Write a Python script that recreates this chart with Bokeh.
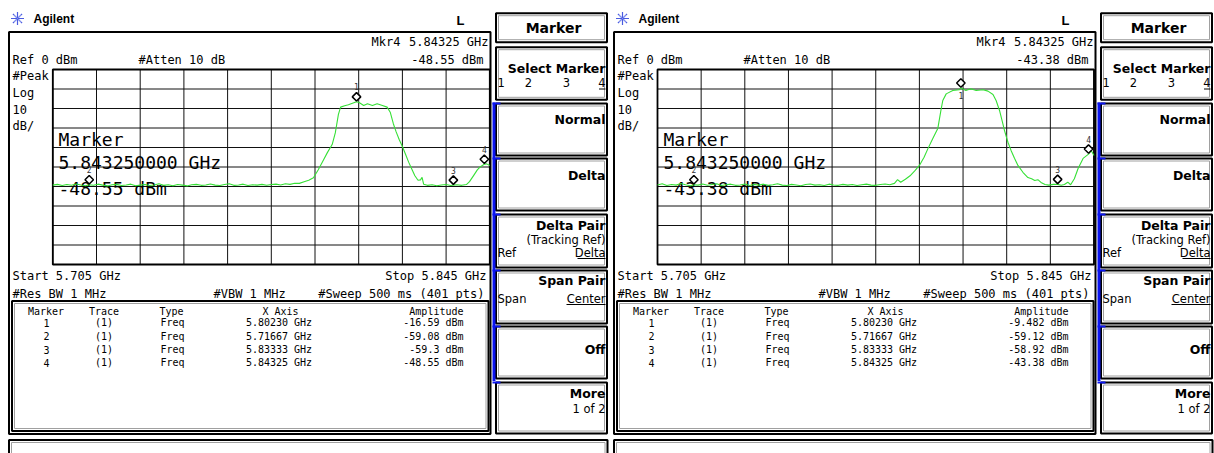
import numpy as np
from bokeh.plotting import figure
from bokeh.models import Range1d
from bokeh.core.properties import value
from bokeh.embed import file_html
from bokeh.resources import INLINE

# ---------------------------------------------------------------- data
F_START, F_STOP = 5705.0, 5845.0          # MHz (Start 5.705 GHz / Stop 5.845 GHz)
REF_LEVEL, DB_PER_DIV = 0.0, 10.0          # Ref 0 dBm, 10 dB/div
N_XDIV, N_YDIV = 10, 10

# left screen trace (MHz, dBm)
L_FREQ = [5705, 5706.5, 5708, 5709.5, 5711, 5712.5, 5714, 5715.5, 5716.67, 5718,
          5719.5, 5721, 5722.5, 5724, 5725.5, 5727, 5728.5, 5730, 5731.5, 5733,
          5734.5, 5736, 5737.5, 5739, 5740.5, 5742, 5743.5, 5745, 5746.5, 5748,
          5749.5, 5751, 5752.5, 5754, 5755.5, 5757, 5758.5, 5760, 5761.5, 5763,
          5764.5, 5766, 5767.5, 5769, 5770.5, 5772, 5773.5, 5775, 5776.5, 5778,
          5779.5, 5781, 5782.5, 5784, 5785.5, 5787, 5788.5, 5790, 5791.5, 5793,
          5794.5, 5795.5, 5796.5, 5797.2, 5798.5, 5799.7, 5801, 5802.3, 5803, 5804.6,
          5805.8, 5807.4, 5808.9, 5810.6, 5812.1, 5813.1, 5814.1, 5815, 5816, 5817,
          5818, 5819, 5820, 5821, 5822, 5822.8, 5823.3, 5823.8, 5825, 5826.5,
          5828, 5829.5, 5831, 5832.5, 5833.33, 5834.5, 5836, 5837.5, 5838.5, 5839.8,
          5841, 5842, 5843.25, 5844, 5845]
L_DBM = [-59.3, -58.9, -59.5, -59.0, -59.4, -58.7, -59.2, -59.6, -59.08, -59.4,
         -58.8, -59.3, -59.7, -59.1, -58.9, -59.5, -59.2, -58.8, -59.6, -59.3,
         -59.0, -59.5, -59.2, -58.6, -59.4, -59.1, -59.6, -59.0, -59.3, -59.7,
         -59.1, -58.9, -59.4, -59.2, -58.7, -59.3, -59.5, -59.0, -58.6, -59.4,
         -59.2, -58.8, -59.5, -59.1, -59.3, -58.9, -59.4, -59.0, -58.8, -59.2,
         -58.6, -58.9, -58.3, -58.4, -57.6, -56.8, -55.5, -51.5, -47.0, -42.5,
         -38.5, -32.5, -23.0, -19.3, -18.6, -18.1, -17.3, -16.59, -16.8, -18.5,
         -17.6, -18.5, -17.6, -18.5, -19.3, -21.9, -27.8, -32.0, -36.0, -39.5,
         -43.5, -47.5, -51.0, -54.5, -56.8, -56.6, -55.3, -58.8, -59.4, -59.1,
         -59.6, -59.2, -59.0, -59.5, -59.3, -59.1, -59.4, -59.0, -57.5, -54.4,
         -51.5, -49.8, -48.55, -48.4, -49.2]

# right screen trace (MHz, dBm)
R_FREQ = [5705, 5706.5, 5708, 5709.5, 5711, 5712.5, 5714, 5715.5, 5716.67, 5718,
          5719.5, 5721, 5722.5, 5724, 5725.5, 5727, 5728.5, 5730, 5731.5, 5733,
          5734.5, 5736, 5737.5, 5739, 5740.5, 5742, 5743.5, 5745, 5746.5, 5748,
          5749.5, 5751, 5752.5, 5754, 5755.5, 5757, 5758.5, 5760, 5761.5, 5763,
          5764.5, 5766, 5767.5, 5769, 5770.5, 5772, 5773.5, 5775, 5776.5, 5778,
          5779.5, 5781, 5782, 5783, 5784.5, 5786, 5787.5, 5789, 5790.5, 5791.7,
          5793.3, 5794.9, 5795.9, 5796.5, 5797.6, 5799.7, 5801.8, 5802.3, 5803.9, 5805.5,
          5807.2, 5809.4, 5811, 5812.6, 5813.6, 5814.7, 5815.8, 5816.3, 5817.4, 5818.4,
          5819.5, 5820.6, 5822.2, 5823.8, 5825, 5826, 5827, 5828, 5829.3, 5830.5,
          5832, 5833.33, 5834.5, 5835.5, 5836.6, 5837.5, 5838.7, 5839.9, 5841.5, 5843.25,
          5844.1, 5845]
R_DBM = [-59.2, -58.6, -59.5, -59.0, -59.3, -58.5, -59.1, -59.6, -59.12, -59.3,
         -58.7, -59.4, -59.0, -58.6, -59.5, -59.1, -58.8, -59.4, -59.2, -58.7,
         -59.5, -59.0, -59.3, -58.8, -59.4, -59.1, -58.6, -59.3, -59.5, -58.9,
         -59.2, -59.6, -59.0, -58.7, -59.3, -59.1, -59.5, -58.8, -59.2, -59.4,
         -58.9, -59.3, -59.0, -59.5, -59.1, -58.8, -59.3, -59.4, -59.0, -58.7,
         -59.1, -58.4, -56.5, -57.8, -56.3, -54.5, -52.0, -49.2, -45.0, -40.7,
         -35.4, -30.3, -21.0, -15.9, -12.5, -10.8, -10.4, -9.482, -10.8, -9.9,
         -10.8, -10.4, -11.1, -12.8, -15.9, -21.0, -28.0, -31.3, -37.3, -41.5,
         -45.5, -49.2, -52.7, -55.4, -56.0, -56.9, -56.5, -57.9, -59.0, -59.3,
         -58.9, -58.92, -59.4, -59.0, -57.8, -59.1, -56.0, -50.8, -45.6, -43.38,
         -41.5, -44.1]

MARKER_IDS = ["1", "2", "3", "4"]
MARKER_FREQ = [5802.30, 5716.67, 5833.33, 5843.25]
L_MARKER_AMP = [-16.59, -59.08, -59.3, -48.55]
R_MARKER_AMP = [-9.482, -59.12, -58.92, -43.38]
MARKER_FREQ_TXT = ["5.80230 GHz", "5.71667 GHz", "5.83333 GHz", "5.84325 GHz"]
L_MARKER_AMP_TXT = ["-16.59 dBm", "-59.08 dBm", "-59.3 dBm", "-48.55 dBm"]
R_MARKER_AMP_TXT = ["-9.482 dBm", "-59.12 dBm", "-58.92 dBm", "-43.38 dBm"]
TABLE_HEAD = ["Marker", "Trace", "Type", "X Axis", "Amplitude"]
TRACE_TXT = "(1)"
TYPE_TXT = "Freq"
ACTIVE_FREQ_LONG = "5.843250000 GHz"
ACTIVE_FREQ_SHORT = "5.84325 GHz"
L_ACTIVE_AMP = "-48.55 dBm"
R_ACTIVE_AMP = "-43.38 dBm"

SOFTKEY_TITLE = "Marker"
SOFTKEY_LABELS = ["Select Marker", "Normal", "Delta", "Delta Pair", "Span Pair", "Off", "More"]

# ---------------------------------------------------------------- layout / style
W, H = 1214, 453
MONO = "DejaVu Sans Mono"
SANS = "DejaVu Sans"
ARIAL = "Liberation Sans"
TRACE_COLOR = "#36e036"
GRID_COLOR = "#111111"
BLUE = "#0a14f0"

p = figure(width=W, height=H, x_range=Range1d(0, W), y_range=Range1d(H, 0),
           x_axis_location=None, y_axis_location=None,
           output_backend="svg", toolbar_location=None, min_border=0,
           margin=(0, 0, 0, 0), outline_line_color=None,
           background_fill_color="white", border_fill_color="white")
p.xgrid.visible = False
p.ygrid.visible = False


def T(x, y, s, size, font=MONO, bold=False, align="left", color="black",
      xr="default", yr="default"):
    p.text(x=[x], y=[y], text=[s], text_font=value(font),
           text_font_size=f"{size}px",
           text_font_style="bold" if bold else "normal",
           text_align=align, text_baseline="middle", text_color=color,
           x_range_name=xr, y_range_name=yr)


def box(l, r, t, b, lw=2, inner=True, fill="white"):
    p.quad(left=[l], right=[r], top=[t], bottom=[b], fill_color=fill,
           line_color="black", line_width=lw)
    if inner:
        p.quad(left=[l + 2.5], right=[r - 2.5], top=[t + 2.5], bottom=[b - 2.5],
               fill_color=None, line_color="#a0a0a0", line_width=1)


PANELS = [
    dict(dx=0, grid=(52.3, 489.3, 69.0, 264.0), freq=L_FREQ, dbm=L_DBM,
         mamp=L_MARKER_AMP, mamp_txt=L_MARKER_AMP_TXT, act_amp=L_ACTIVE_AMP,
         label_side=[1, 1, 1, 1]),
    dict(dx=605, grid=(657.0, 1093.5, 69.0, 264.0), freq=R_FREQ, dbm=R_DBM,
         mamp=R_MARKER_AMP, mamp_txt=R_MARKER_AMP_TXT, act_amp=R_ACTIVE_AMP,
         label_side=[-1, 1, 1, 1]),
]

SK_BOXES = [(12.7, 41.7), (46.7, 99.3), (103, 155), (158, 210), (214, 267),
            (270, 323), (326, 378), (382, 433)]
SK_LABEL_Y = [68, 119, 174.5, 225, 280, 348.5, 393]

xr_dict, yr_dict = {}, {}

for k, P in enumerate(PANELS):
    dx = P["dx"]
    # --- frames
    box(8.5 + dx, 490 + dx, 31.5, 433.5, inner=False)
    box(11.5 + dx, 488 + dx, 300.5, 430.5)
    box(8.5 + dx, 607 + dx, 439.5, 470)

    # --- logo & header
    p.scatter(x=[17 + dx], y=[18], marker="asterisk", size=13, line_color="#4a5ce0", line_width=1.2)
    p.scatter(x=[17 + dx], y=[18], marker="x", size=10, line_color="#7d8cf0", line_width=1)
    T(33 + dx, 18.5, "Agilent", 12, font=ARIAL, bold=True)
    T(456 + dx, 19.5, "L", 13, font=ARIAL, bold=True)

    T(371 + dx, 41.5, "Mkr4", 12)
    T(488 + dx, 41.5, ACTIVE_FREQ_SHORT, 12, align="right")
    T(12 + dx, 59, "Ref 0 dBm", 12)
    T(138 + dx, 59, "#Atten 10 dB", 12)
    T(483 + dx, 59, P["act_amp"], 12, align="right")
    for s, yy in zip(["#Peak", "Log", "10", "dB/"], [75.5, 92, 108.5, 125.5]):
        T(12 + dx, yy, s, 12)
    T(12 + dx, 275.5, "Start 5.705 GHz", 12)
    T(486 + dx, 275.5, "Stop 5.845 GHz", 12, align="right")
    T(12 + dx, 293, "#Res BW 1 MHz", 12)
    T(213 + dx, 293, "#VBW 1 MHz", 12)
    T(484 + dx, 293, "#Sweep 500 ms (401 pts)", 12, align="right")

    # --- ranges mapping data onto the graticule
    gx0, gx1, gy0, gy1 = P["grid"]
    fpx = (F_STOP - F_START) / (gx1 - gx0)
    dpx = DB_PER_DIV * N_YDIV / (gy1 - gy0)
    xr, yr = f"f{k}", f"d{k}"
    xr_dict[xr] = Range1d(F_START - gx0 * fpx, F_START + (W - gx0) * fpx)
    yr_dict[yr] = Range1d(REF_LEVEL - (H - gy0) * dpx, REF_LEVEL + gy0 * dpx)
    bottom_db = REF_LEVEL - DB_PER_DIV * N_YDIV

    fticks = [F_START + i * (F_STOP - F_START) / N_XDIV for i in range(N_XDIV + 1)]
    dticks = [REF_LEVEL - i * DB_PER_DIV for i in range(N_YDIV + 1)]
    p.segment(x0=fticks, y0=[REF_LEVEL] * len(fticks), x1=fticks, y1=[bottom_db] * len(fticks),
              line_color=GRID_COLOR, line_width=1, x_range_name=xr, y_range_name=yr)
    p.segment(x0=[F_START] * len(dticks), y0=dticks, x1=[F_STOP] * len(dticks), y1=dticks,
              line_color=GRID_COLOR, line_width=1, x_range_name=xr, y_range_name=yr)
    p.quad(left=[F_START], right=[F_STOP], top=[REF_LEVEL], bottom=[bottom_db],
           fill_color=None, line_color="black", line_width=1.8, x_range_name=xr, y_range_name=yr)

    # --- active marker readout (big text)
    T(58 + dx, 139, "Marker", 18)
    T(58 + dx, 162, ACTIVE_FREQ_LONG, 18)
    T(58 + dx, 187.5, P["act_amp"], 18)

    # --- trace
    p.line(P["freq"], P["dbm"], line_color=TRACE_COLOR, line_width=1.1,
           x_range_name=xr, y_range_name=yr)

    # --- markers
    p.scatter(x=MARKER_FREQ, y=[a + 5 * dpx for a in P["mamp"]], marker="square",
              angle=np.pi / 4, size=6, fill_color="white", line_color="black",
              line_width=1.5, x_range_name=xr, y_range_name=yr)
    for mid, f, a, side in zip(MARKER_IDS, MARKER_FREQ, P["mamp"], P["label_side"]):
        ly = a + (15 * dpx if side > 0 else -7.5 * dpx)
        T(f, ly, mid, 8, align="center", color="#333333", xr=xr, yr=yr)

    # --- marker table
    T(45.5 + dx, 310.8, TABLE_HEAD[0], 10, align="center")
    T(103.5 + dx, 310.8, TABLE_HEAD[1], 10, align="center")
    T(171 + dx, 310.8, TABLE_HEAD[2], 10, align="center")
    T(280 + dx, 310.8, TABLE_HEAD[3], 10, align="center")
    T(463 + dx, 310.8, TABLE_HEAD[4], 10, align="right")
    for i, ry in enumerate([322.4, 335.8, 349.2, 362.4]):
        T(46 + dx, ry, MARKER_IDS[i], 10, align="center")
        T(103.5 + dx, ry, TRACE_TXT, 10, align="center")
        T(172 + dx, ry, TYPE_TXT, 10, align="center")
        T(278.5 + dx, ry, MARKER_FREQ_TXT[i], 10, align="center")
        T(463 + dx, ry, P["mamp_txt"][i], 10, align="right")

    # --- softkeys
    for (t, b) in SK_BOXES:
        box(495.5 + dx, 606.5 + dx, t, b)
    T(553 + dx, 27, SOFTKEY_TITLE, 14, font=SANS, bold=True, align="center")
    for s, yy in zip(SOFTKEY_LABELS, SK_LABEL_Y):
        T(605 + dx, yy, s, 12.5, font=SANS, bold=True, align="right")
    T(497 + dx, 82, "1", 11.5, font=SANS)
    T(528 + dx, 82, "2", 11.5, font=SANS, align="center")
    T(566 + dx, 82, "3", 11.5, font=SANS, align="center")
    T(605 + dx, 82, "4", 11.5, font=SANS, align="right")
    T(605 + dx, 239, "(Tracking Ref)", 11.5, font=SANS, align="right")
    T(497 + dx, 252, "Ref", 11.5, font=SANS)
    T(605 + dx, 252, "Delta", 11.5, font=SANS, align="right")
    T(497 + dx, 298.5, "Span", 11.5, font=SANS)
    T(605 + dx, 298.5, "Center", 11.5, font=SANS, align="right")
    T(605 + dx, 408.5, "1 of 2", 11.5, font=SANS, align="right")
    p.segment(x0=[598.5 + dx, 577 + dx, 566 + dx], y0=[88.5, 258, 304],
              x1=[605 + dx, 605 + dx, 605 + dx], y1=[88.5, 258, 304],
              line_color="black", line_width=1)
    # blue active-menu bar
    p.segment(x0=[493.5 + dx], y0=[102], x1=[493.5 + dx], y1=[380.5],
              line_color=BLUE, line_width=3)
    tops = [b[0] for b in SK_BOXES[2:]]
    p.segment(x0=[492 + dx] * len(tops), y0=tops, x1=[500 + dx] * len(tops), y1=tops,
              line_color=BLUE, line_width=2)

p.extra_x_ranges = xr_dict
p.extra_y_ranges = yr_dict

open("out.html", "w").write(file_html(p, INLINE))
